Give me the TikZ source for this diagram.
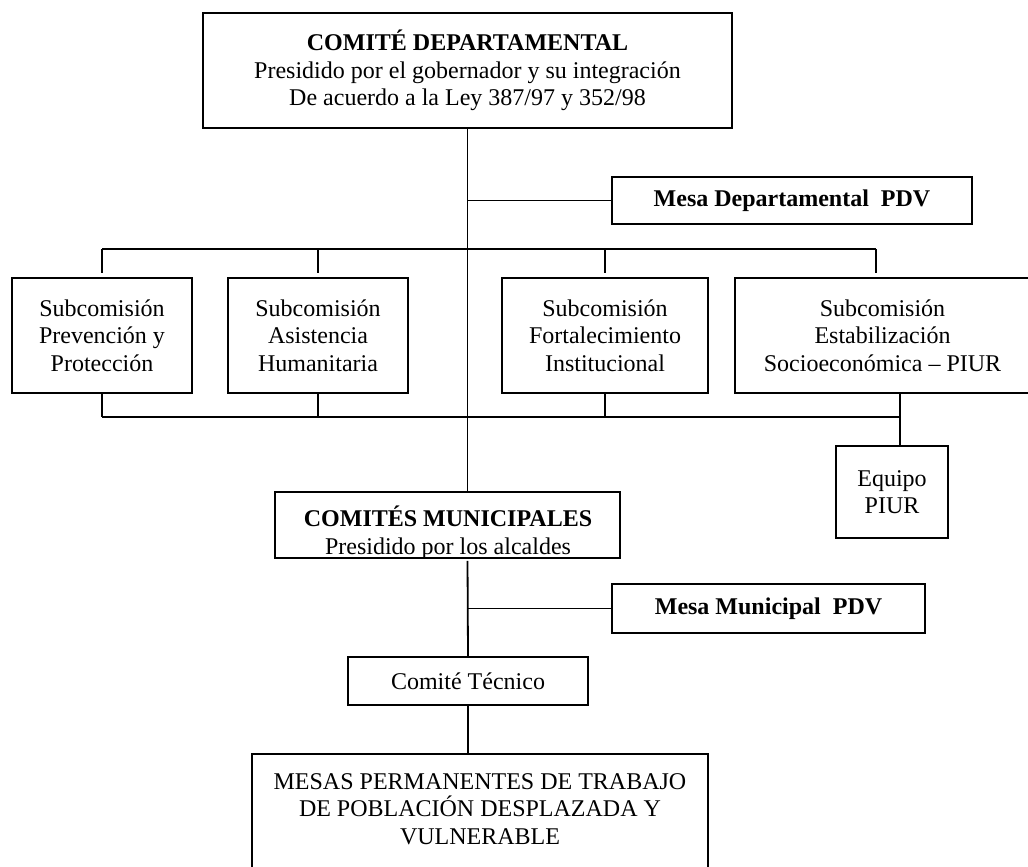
\documentclass[tikz,border=0pt]{standalone}
\usepackage{fontspec}
\setmainfont{Liberation Serif}
\usetikzlibrary{positioning,calc}

\tikzset{
    orgbox/.style={draw, line width=1.8pt, align=center, inner sep=0pt, font=\fontsize{24}{27.6}\selectfont},
    orgtext/.style={align=center, inner sep=0pt, font=\fontsize{24}{27.6}\selectfont},
    link/.style={line width=1.8pt}
}

\begin{document}
\begin{tikzpicture}[x=1pt, y=-1pt]
    \useasboundingbox (0,0) rectangle (1028,867);

    % Departmental committee
    \node[orgbox, minimum width=529pt, minimum height=115pt] (dep) at (467.5,70.5) {\textbf{COMITÉ DEPARTAMENTAL}\\Presidido por el gobernador y su integración\\De acuerdo a la Ley 387/97 y 352/98};
    \node[orgbox, minimum width=360pt, minimum height=47pt] (mdep) at (792,200.5) {\textbf{Mesa Departamental~~PDV}};

    % Subcommissions
    \node[orgbox, minimum width=180pt, minimum height=115pt] (s1) at (102,335.5) {Subcomisión\\Prevención y\\Protección};
    \node[orgbox, minimum width=180pt, minimum height=115pt] (s2) at (318,335.5) {Subcomisión\\Asistencia\\Humanitaria};
    \node[orgbox, minimum width=206pt, minimum height=115pt] (s3) at (605,335.5) {Subcomisión\\Fortalecimiento\\Institucional};
    \node[orgbox, minimum width=295pt, minimum height=115pt] (s4) at (882.5,335.5) {Subcomisión\\Estabilización\\Socioeconómica -- PIUR};
    \node[orgbox, minimum width=112pt, minimum height=92pt] (equipo) at (892,492) {Equipo\\PIUR};

    % Municipal level
    \node[orgbox, minimum width=345pt, minimum height=66pt] (mun) at (447.5,525) {};
    \begin{scope}
        \clip (mun.south west) rectangle (mun.north east);
        \node[orgtext] (muntext) at (448,533) {\textbf{COMITÉS MUNICIPALES}\\Presidido por los alcaldes};
    \end{scope}
    \node[orgbox, minimum width=313pt, minimum height=49pt] (mmun) at (768.5,608.5) {\textbf{Mesa Municipal~~PDV}};
    \node[orgbox, minimum width=240pt, minimum height=48pt] (tec) at (468,681) {Comité Técnico};
    \node[orgbox, minimum width=456pt, minimum height=140pt, anchor=north] (mesas) at (480,753) {};
    \node[orgtext] (mesastext) at (480,809) {MESAS PERMANENTES DE TRABAJO\\DE POBLACIÓN DESPLAZADA Y\\VULNERABLE};

    % Bars
    \coordinate (bartop) at (468,249);
    \coordinate (barbot) at (468,417);
    \coordinate (s4top) at (876,249);
    \coordinate (s4bot) at (900,417);

    % Trunk and branches
    \draw[link] (dep.south) -- (dep.south |- mun.north);
    \draw[link] (dep.south |- mdep.west) -- (mdep.west);
    \draw[link] (s1.north |- bartop) -- (s4top);
    \draw[link] (s1.south |- barbot) -- (s4bot);
    \foreach \n in {s1,s2,s3} {
        \draw[link, shorten >=4pt] (\n.north |- bartop) -- (\n.north);
        \draw[link] (\n.south) -- (\n.south |- barbot);
    }
    \draw[link, shorten >=4pt] (s4top) -- (s4top |- s4.north);
    \draw[link] (s4bot |- s4.south) -- (s4bot |- equipo.north);
    \draw[link, shorten <=2pt] (dep.south |- mun.south) -- (tec.north);
    \draw[link] (dep.south |- mmun.west) -- (mmun.west);
    \draw[link] (tec.south) -- (tec.south |- mesas.north);
\end{tikzpicture}
\end{document}
